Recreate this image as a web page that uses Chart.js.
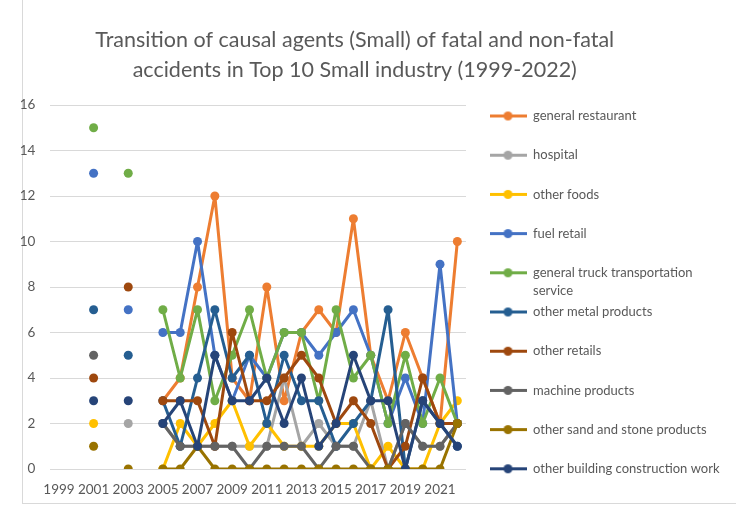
<!DOCTYPE html>
<html>
<head>
<meta charset="utf-8">
<script src="https://cdn.jsdelivr.net/npm/chart.js"></script>
<style>
  html, body { margin: 0; padding: 0; background: #fff; }
  body { width: 736px; height: 507px; position: relative; overflow: hidden; }
  #moldura { position: absolute; left: 22px; top: -1px; width: 713px; height: 503px; border: 1px solid #d9d9d9; }
  #grafico { position: absolute; left: -20px; top: 0; }
</style>
</head>
<body>
<div id="moldura"></div>
<canvas id="grafico" width="756" height="507"></canvas>
<script>
// Small industry - causal agents per year

var anos = ['1999', '2000', '2001', '2002', '2003', '2004', '2005', '2006', '2007', '2008', '2009', '2010',
            '2011', '2012', '2013', '2014', '2015', '2016', '2017', '2018', '2019', '2020', '2021', '2022'];

var nomes = ['general restaurant', 'hospital', 'other foods', 'fuel retail', 'general truck transportation service',
             'other metal products', 'other retails', 'machine products', 'other sand and stone products',
             'other building construction work'];

var cores = ['#ED7D31', '#A5A5A5', '#FFC000', '#4472C4', '#70AD47', '#255E91', '#9E480E', '#636363', '#997300', '#264478'];

var restaurante = [null, null, null, null, null, null, 3, 4, 8, 12, 4, 3, 8, 3, 6, 7, 6, 11, 5, 3, 6, 4, 2, 10];
var hospital    = [null, null, null, null, 2, null, 2, 1, 1, 1, 1, 1, 1, 4, 1, 2, 1, 1, 3, 0, 2, 1, 1, 2];
var alimentos   = [null, null, 2, null, null, null, 0, 2, 1, 2, 3, 1, 2, 1, 1, 1, 2, 2, 0, 1, 0, 0, 2, 3];
var combustivel = [null, null, 13, null, 7, null, 6, 6, 10, 5, 3, 5, 4, 6, 6, 5, 6, 7, 5, 2, 4, 2, 9, 2];
var caminhao    = [null, null, 15, null, 13, null, 7, 4, 7, 3, 5, 7, 4, 6, 6, 3, 7, 4, 5, 2, 5, 2, 4, 2];
var metal       = [null, null, 7, null, 5, null, 3, 1, 4, 7, 4, 5, 2, 5, 3, 3, 1, 2, 3, 7, 0, 3, 2, 1];
var varejo      = [null, null, 4, null, 8, null, 3, 3, 3, 1, 6, 3, 3, 4, 5, 4, 2, 3, 2, 0, 1, 4, 2, 2];
var maquinas    = [null, null, 5, null, null, null, 2, 1, 1, 1, 1, 0, 1, 1, 1, 0, 1, 1, 0, 0, 2, 1, 1, 2];
var areia       = [null, null, 1, null, 0, null, 0, 0, 1, 0, 0, 0, 0, 0, 0, 0, 0, 0, 0, 0, 0, 0, 0, 2];
var construcao  = [null, null, 3, null, 3, null, 2, 3, 1, 5, 3, 3, 4, 2, 4, 1, 2, 5, 3, 3, 0, 3, 2, 1];

var series = [restaurante, hospital, alimentos, combustivel, caminhao, metal, varejo, maquinas, areia, construcao];

var titulo = ['Transition of causal agents (Small) of fatal and non-fatal',
              'accidents in Top 10 Small industry (1999-2022)'];

Chart.defaults.font.family = 'Lato';

// canvas is shifted left by OX so the title sits where it does in the picture
var OX = 20;
var LARGURA = 736 + OX;
var AREA_ESQ = 50.3, AREA_DIR = 466, LEGENDA_ESQ = 486.3;
var PAD_LEG = 3.2, CAIXA = 37, FONTE_LEG = 13;

var med = document.createElement('canvas').getContext('2d');
med.font = 'normal ' + FONTE_LEG + 'px Lato';

function quebrar(texto, max) {
    var palavras = texto.split(' ');
    var linhas = [];
    var atual = '';
    palavras.forEach(function (p) {
        var teste = atual ? atual + ' ' + p : p;
        if (atual && med.measureText(teste).width > max) {
            linhas.push(atual);
            atual = p;
        } else {
            atual = teste;
        }
    });
    linhas.push(atual);
    while (linhas.length < 2) linhas.push('');
    return linhas;
}

var linhasLegenda = nomes.map(function (n) { return quebrar(n, 200); });

var maiorTexto = 0;
linhasLegenda.forEach(function (l) {
    l.forEach(function (t) { maiorTexto = Math.max(maiorTexto, med.measureText(t).width); });
});
var larguraLegenda = PAD_LEG + CAIXA + FONTE_LEG / 2 + maiorTexto + 10;
var padDireita = Math.max(0, LARGURA - (LEGENDA_ESQ + OX) - larguraLegenda);

function marcador(cor) {
    var c = document.createElement('canvas');
    c.width = CAIXA;
    c.height = 11;
    var g = c.getContext('2d');
    g.strokeStyle = cor;
    g.lineWidth = 3;
    g.beginPath();
    g.moveTo(0, 5.5);
    g.lineTo(CAIXA, 5.5);
    g.stroke();
    g.fillStyle = cor;
    g.beginPath();
    g.arc(CAIXA / 2, 5.5, 4.5, 0, Math.PI * 2);
    g.fill();
    return c;
}

var marcadores = cores.map(marcador);

var datasets = [];
for (var i = 0; i < nomes.length; i++) {
    datasets.push({
        label: nomes[i],
        data: series[i],
        yAxisID: 'y',
        borderColor: cores[i],
        backgroundColor: cores[i],
        borderWidth: 3,
        borderJoinStyle: 'round',
        borderCapStyle: 'round',
        pointRadius: 4.5,
        pointHoverRadius: 4.5,
        pointBorderWidth: 0,
        tension: 0,
        order: nomes.length - i
    });
}

var ctx = document.getElementById('grafico').getContext('2d');

var grafico = new Chart(ctx, {
    type: 'line',
    data: {
        labels: anos,
        datasets: datasets
    },
    options: {
        responsive: false,
        animation: false,
        devicePixelRatio: 1,
        layout: {
            padding: { left: 0, right: padDireita, top: 0, bottom: 5.5 }
        },
        scales: {
            x: {
                offset: true,
                grid: { display: false, drawTicks: false },
                border: { display: false },
                ticks: {
                    autoSkip: false,
                    maxRotation: 0,
                    color: '#595959',
                    padding: 13,
                    font: { size: 13.5 },
                    callback: function (v, idx) { return idx % 2 === 0 ? anos[idx] : ''; }
                },
                afterFit: function (s) { s.height = 32.5; }
            },
            y: {
                min: 0,
                max: 16,
                ticks: { stepSize: 2, color: '#595959', padding: 15, font: { size: 13.5 } },
                grid: { color: '#d9d9d9', drawTicks: false },
                border: { display: false },
                afterFit: function (s) { s.width = AREA_ESQ + OX; }
            },
            // empty axis, only keeps the gap between plot and legend
            folga: {
                type: 'linear',
                position: 'right',
                grid: { display: false, drawTicks: false },
                border: { display: false },
                ticks: { display: false },
                afterFit: function (s) { s.width = LEGENDA_ESQ - AREA_DIR; }
            }
        },
        plugins: {
            tooltip: { enabled: false },
            title: {
                display: true,
                text: titulo,
                color: '#595959',
                font: { size: 21.5, weight: 'normal', lineHeight: 30 / 21.5 },
                padding: { top: 25, bottom: 20 }
            },
            legend: {
                position: 'right',
                align: 'end',
                maxWidth: larguraLegenda,
                labels: {
                    usePointStyle: true,
                    pointStyleWidth: CAIXA,
                    padding: PAD_LEG,
                    color: '#595959',
                    font: { size: FONTE_LEG, lineHeight: 18 / FONTE_LEG },
                    sort: function (a, b) { return a.datasetIndex - b.datasetIndex; },
                    generateLabels: function (chart) {
                        var itens = Chart.defaults.plugins.legend.labels.generateLabels(chart);
                        itens.forEach(function (it) {
                            it.text = linhasLegenda[it.datasetIndex];
                            it.pointStyle = marcadores[it.datasetIndex];
                        });
                        return itens;
                    }
                }
            }
        }
    }
});
</script>
</body>
</html>
